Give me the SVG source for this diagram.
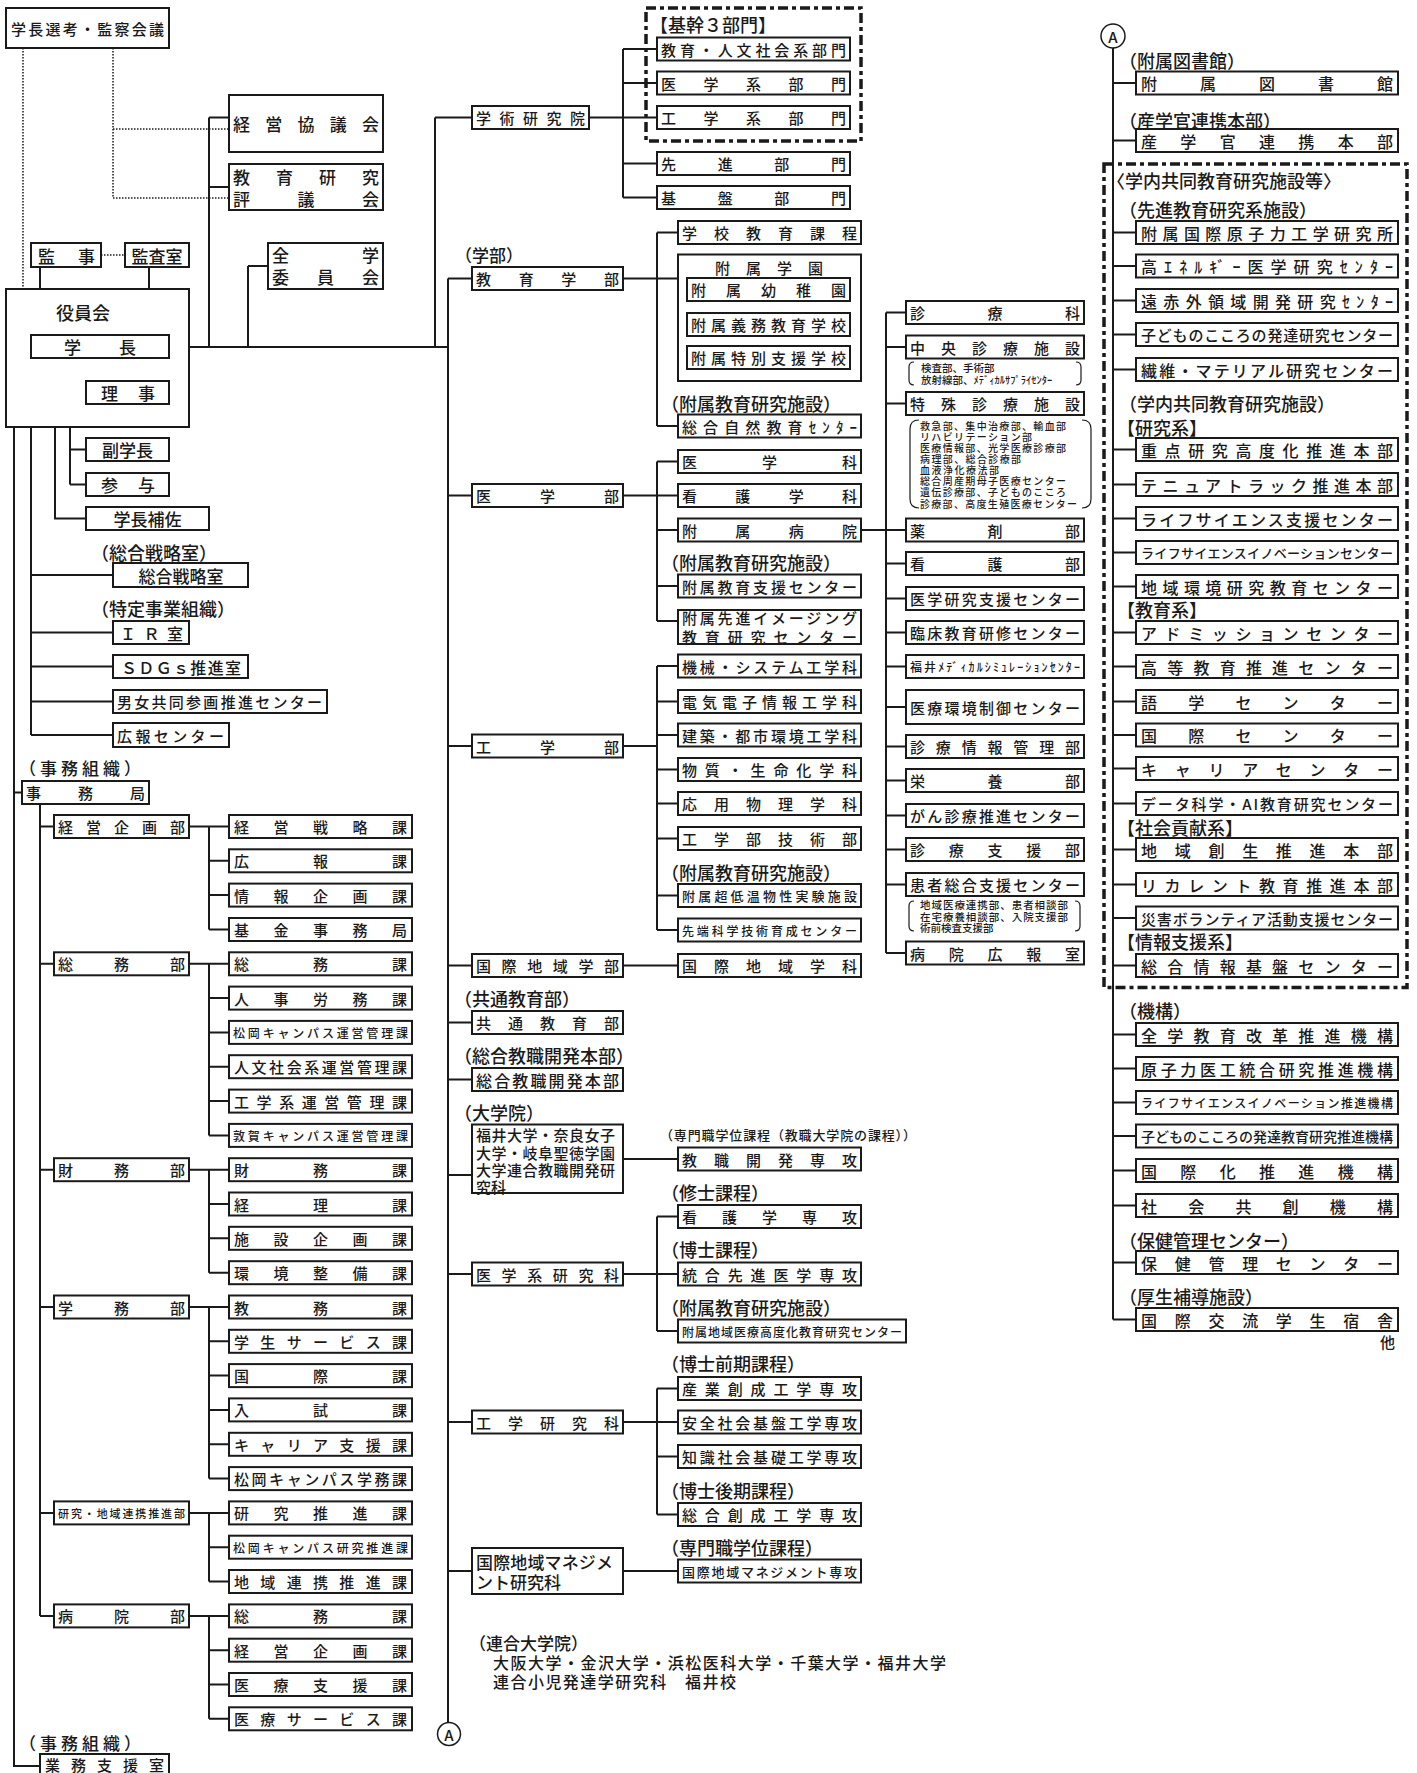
<svg xmlns="http://www.w3.org/2000/svg" width="1417" height="1773" viewBox="0 0 1417 1773">
<style>
.b{fill:#fff;stroke:#1a1a1a;stroke-width:2}
text{font-family:"Noto Sans CJK JP","Noto Sans CJK SC",sans-serif;font-size:15px;font-weight:500;fill:#1a1a1a;dominant-baseline:central}
.m{text-anchor:middle}
.f10{font-size:10px}.f105{font-size:10.5px}.f11{font-size:11px}.f12{font-size:12px}.f13{font-size:13px}.f14{font-size:14px}.f16{font-size:16px}.f17{font-size:17px}.f18{font-size:18px}
.lb{font-size:18px}
#connectors path{fill:none;stroke:#1a1a1a;stroke-width:2}
#connectors path.dot{stroke-width:1.5;stroke-dasharray:1.5 1.5}
.dash{fill:none;stroke:#1a1a1a;stroke-width:3.5;stroke-dasharray:10 4 4 4}
.br{fill:none;stroke:#1a1a1a;stroke-width:1.2}
.cir{fill:#fff;stroke:#1a1a1a;stroke-width:1.5}
</style>
<rect x="0" y="0" width="1417" height="1773" fill="#fff"/>

<g id="connectors">
<path class="dot" d="M23 48V347H31"/>
<path class="dot" d="M113 48V198H229M113 129H229"/>
<path class="dot" d="M101 255H125"/>
<path d="M189 347H448M435 117.5V347M435 117.5H472"/>
<path d="M589 117.5H657M623 49V197.5M623 49H657M623 83H657M623 163.5H657M623 197.5H657"/>
<path d="M209 117.5V347M209 117.5H229M209 187H229"/>
<path d="M248 266V347M248 266H268"/>
<path d="M40 267V289M149 267V335"/>
<path d="M70 358V484.5M70 392.5H86M70 449.5H86M70 484.5H86M55 358V518.5H86"/>
<path d="M31 427V735M31 575H113M31 632.5H113M31 666.5H113M31 701.5H113M31 735H113"/>
<path d="M14 427V1766H40M14 792.5H22"/>
<path d="M40 804V1615.9M40 826.5H54M40 963.8H54M40 1169.7H54M40 1307H54M40 1512.9H54M40 1615.9H54"/>
<path d="M189 826.5H229M209 826.5V929.5M209 860.8H229M209 895.1H229M209 929.5H229"/>
<path d="M189 963.8H229M209 963.8V1135.4M209 998.1H229M209 1032.4H229M209 1066.7H229M209 1101.1H229M209 1135.4H229"/>
<path d="M189 1169.7H229M209 1169.7V1272.7M209 1204H229M209 1238.3H229M209 1272.7H229"/>
<path d="M189 1307H229M209 1307V1478.6M209 1341.3H229M209 1375.6H229M209 1409.9H229M209 1444.3H229M209 1478.6H229"/>
<path d="M189 1512.9H229M209 1512.9V1581.5M209 1547.2H229M209 1581.5H229"/>
<path d="M189 1615.9H229M209 1615.9V1718.8M209 1650.2H229M209 1684.5H229M209 1718.8H229"/>
<path d="M448 278.5V1722M448 278.5H472M448 495.5H472M448 746H472M448 965.5H472M448 1022.5H472M448 1079.5H472M448 1175H472M448 1274H472M448 1422H472M448 1571H472"/>
<path d="M623 278.5H678M657 232.5V426M657 232.5H678M657 426H678"/>
<path d="M623 495.5H657M657 461.5V621M657 461.5H678M657 495.5H678M657 530H678M657 586H678M657 621H678"/>
<path d="M861 530H886M886 312.5V953M886 312.5H906M886 347H906M886 403.5H906M886 530H906M886 563.5H906M886 598.5H906M886 632.5H906M886 666.5H906M886 707H906M886 746.5H906M886 780.5H906M886 815.5H906M886 849.5H906M886 884.5H906M886 953H906"/>
<path d="M623 746H657M657 666V930M657 666H678M657 701.5H678M657 735H678M657 769.5H678M657 803.5H678M657 838.5H678M657 895.5H678M657 930H678"/>
<path d="M623 965.5H678M623 1159H678"/>
<path d="M623 1274H678M657 1216.5V1331M657 1216.5H678M657 1331H678"/>
<path d="M623 1422H678M657 1388.5V1514.5M657 1388.5H678M657 1456.5H678M657 1514.5H678"/>
<path d="M623 1571H678"/>
<path d="M1113 48V1319.5M1113 83H1136M1113 140.5H1136M1113 232.5H1136M1113 266H1136M1113 300.5H1136M1113 334.5H1136M1113 369.5H1136M1113 449.5H1136M1113 484.5H1136M1113 518.5H1136M1113 552.5H1136M1113 586.5H1136M1113 632.5H1136M1113 666.5H1136M1113 701.5H1136M1113 735H1136M1113 768.5H1136M1113 803.5H1136M1113 849.5H1136M1113 884.5H1136M1113 918H1136M1113 965.5H1136M1113 1034.5H1136M1113 1068.5H1136M1113 1102.5H1136M1113 1136H1136M1113 1170.5H1136M1113 1205.5H1136M1113 1262.5H1136M1113 1319.5H1136"/>
</g>

<!-- top-left -->
<g id="n-senko"><rect class="b" x="6" y="8" width="163" height="40"/><text x="11" y="28" textLength="153">学長選考・監察会議</text></g>
<g id="n-keiei"><rect class="b" x="229" y="95" width="154" height="57"/><text class="f17" x="233" y="123.5" textLength="146">経営協議会</text></g>
<g id="n-hyogikai"><rect class="b" x="229" y="164" width="154" height="46"/><text class="f17" x="233" y="176" textLength="146">教育研究</text><text class="f17" x="233" y="198" textLength="146">評議会</text></g>
<g id="n-zengaku"><rect class="b" x="268" y="243" width="115" height="46"/><text class="f17" x="272" y="254" textLength="107">全学</text><text class="f17" x="272" y="276" textLength="107">委員会</text></g>
<g id="n-kanji"><rect class="b" x="31" y="243" width="70" height="24"/><text class="f17" x="38" y="255" textLength="57">監事</text></g>
<g id="n-kansa"><rect class="b" x="125" y="243" width="64" height="24"/><text class="f17 m" x="157" y="255">監査室</text></g>
<g id="n-yakuin"><rect class="b" x="6" y="289" width="183" height="138"/><text class="f18 m" x="83" y="312">役員会</text></g>
<g id="n-gakucho"><rect class="b" x="31" y="335" width="138" height="23"/><text class="f17" x="64" y="346.5" textLength="72">学長</text></g>
<g id="n-riji"><rect class="b" x="86" y="381" width="83" height="23"/><text class="f17" x="101" y="392.5" textLength="54">理事</text></g>
<g id="n-fukugakucho"><rect class="b" x="86" y="438" width="83" height="23"/><text class="f17 m" x="127.5" y="449.5">副学長</text></g>
<g id="n-sanyo"><rect class="b" x="86" y="473" width="83" height="23"/><text class="f17" x="101" y="484.5" textLength="54">参与</text></g>
<g id="n-hosa"><rect class="b" x="86" y="507" width="123" height="23"/><text class="f17 m" x="147.5" y="518.5">学長補佐</text></g>
<text class="lb" x="91" y="552">（総合戦略室）</text>
<g id="n-senryaku"><rect class="b" x="113" y="563" width="135" height="24"/><text class="f17 m" x="181" y="575">総合戦略室</text></g>
<text class="lb" x="91" y="608">（特定事業組織）</text>
<g id="n-ir"><rect class="b" x="113" y="621" width="76" height="23"/><text class="f16" x="120" y="632.5" textLength="63">ＩＲ室</text></g>
<g id="n-sdgs"><rect class="b" x="113" y="655" width="135" height="23"/><text class="f16" x="121" y="666.5" textLength="120">ＳＤＧｓ推進室</text></g>
<g id="n-danjo"><rect class="b" x="113" y="690" width="214" height="23"/><text x="117" y="701.5" textLength="205">男女共同参画推進センター</text></g>
<g id="n-koho-c"><rect class="b" x="113" y="723" width="116" height="24"/><text x="117" y="735" textLength="107">広報センター</text></g>
<text class="f17" x="19" y="767" textLength="122">（事務組織）</text>
<g id="n-jimukyoku"><rect class="b" x="22" y="781" width="127" height="23"/><text x="26" y="792.5" textLength="119">事務局</text></g>

<!-- departments -->
<g id="d-keiei"><rect class="b" x="54" y="815" width="135" height="23"/><text x="58" y="826.5" textLength="127">経営企画部</text></g>
<g id="d-somu"><rect class="b" x="54" y="952.3" width="135" height="23"/><text x="58" y="963.8" textLength="127">総務部</text></g>
<g id="d-zaimu"><rect class="b" x="54" y="1158.2" width="135" height="23"/><text x="58" y="1169.7" textLength="127">財務部</text></g>
<g id="d-gakumu"><rect class="b" x="54" y="1295.5" width="135" height="23"/><text x="58" y="1307" textLength="127">学務部</text></g>
<g id="d-kenkyu"><rect class="b" x="54" y="1501.4" width="135" height="23"/><text class="f11" x="58" y="1512.9" textLength="127">研究・地域連携推進部</text></g>
<g id="d-byoin"><rect class="b" x="54" y="1604.4" width="135" height="23"/><text x="58" y="1615.9" textLength="127">病院部</text></g>

<!-- sections -->
<g id="k0"><rect class="b" x="229" y="815" width="183" height="23"/><text x="234" y="826.5" textLength="173">経営戦略課</text></g>
<g id="k1"><rect class="b" x="229" y="849.3" width="183" height="23"/><text x="234" y="860.8" textLength="173">広報課</text></g>
<g id="k2"><rect class="b" x="229" y="883.6" width="183" height="23"/><text x="234" y="895.1" textLength="173">情報企画課</text></g>
<g id="k3"><rect class="b" x="229" y="918" width="183" height="23"/><text x="234" y="929.5" textLength="173">基金事務局</text></g>
<g id="k4"><rect class="b" x="229" y="952.3" width="183" height="23"/><text x="234" y="963.8" textLength="173">総務課</text></g>
<g id="k5"><rect class="b" x="229" y="986.6" width="183" height="23"/><text x="234" y="998.1" textLength="173">人事労務課</text></g>
<g id="k6"><rect class="b" x="229" y="1020.9" width="183" height="23"/><text class="f12" x="233" y="1032.4" textLength="175">松岡キャンパス運営管理課</text></g>
<g id="k7"><rect class="b" x="229" y="1055.2" width="183" height="23"/><text x="234" y="1066.7" textLength="173">人文社会系運営管理課</text></g>
<g id="k8"><rect class="b" x="229" y="1089.6" width="183" height="23"/><text x="234" y="1101.1" textLength="173">工学系運営管理課</text></g>
<g id="k9"><rect class="b" x="229" y="1123.9" width="183" height="23"/><text class="f12" x="233" y="1135.4" textLength="175">敦賀キャンパス運営管理課</text></g>
<g id="k10"><rect class="b" x="229" y="1158.2" width="183" height="23"/><text x="234" y="1169.7" textLength="173">財務課</text></g>
<g id="k11"><rect class="b" x="229" y="1192.5" width="183" height="23"/><text x="234" y="1204" textLength="173">経理課</text></g>
<g id="k12"><rect class="b" x="229" y="1226.8" width="183" height="23"/><text x="234" y="1238.3" textLength="173">施設企画課</text></g>
<g id="k13"><rect class="b" x="229" y="1261.2" width="183" height="23"/><text x="234" y="1272.7" textLength="173">環境整備課</text></g>
<g id="k14"><rect class="b" x="229" y="1295.5" width="183" height="23"/><text x="234" y="1307" textLength="173">教務課</text></g>
<g id="k15"><rect class="b" x="229" y="1329.8" width="183" height="23"/><text x="234" y="1341.3" textLength="173">学生サービス課</text></g>
<g id="k16"><rect class="b" x="229" y="1364.1" width="183" height="23"/><text x="234" y="1375.6" textLength="173">国際課</text></g>
<g id="k17"><rect class="b" x="229" y="1398.4" width="183" height="23"/><text x="234" y="1409.9" textLength="173">入試課</text></g>
<g id="k18"><rect class="b" x="229" y="1432.8" width="183" height="23"/><text x="234" y="1444.3" textLength="173">キャリア支援課</text></g>
<g id="k19"><rect class="b" x="229" y="1467.1" width="183" height="23"/><text x="234" y="1478.6" textLength="173">松岡キャンパス学務課</text></g>
<g id="k20"><rect class="b" x="229" y="1501.4" width="183" height="23"/><text x="234" y="1512.9" textLength="173">研究推進課</text></g>
<g id="k21"><rect class="b" x="229" y="1535.7" width="183" height="23"/><text class="f12" x="233" y="1547.2" textLength="175">松岡キャンパス研究推進課</text></g>
<g id="k22"><rect class="b" x="229" y="1570" width="183" height="23"/><text x="234" y="1581.5" textLength="173">地域連携推進課</text></g>
<g id="k23"><rect class="b" x="229" y="1604.4" width="183" height="23"/><text x="234" y="1615.9" textLength="173">総務課</text></g>
<g id="k24"><rect class="b" x="229" y="1638.7" width="183" height="23"/><text x="234" y="1650.2" textLength="173">経営企画課</text></g>
<g id="k25"><rect class="b" x="229" y="1673" width="183" height="23"/><text x="234" y="1684.5" textLength="173">医療支援課</text></g>
<g id="k26"><rect class="b" x="229" y="1707.3" width="183" height="23"/><text x="234" y="1718.8" textLength="173">医療サービス課</text></g>
<text class="f17" x="19" y="1742" textLength="122">（事務組織）</text>
<g id="n-gyomu"><rect class="b" x="40" y="1754" width="129" height="20"/><text x="45" y="1764" textLength="119">業務支援室</text></g>

<!-- middle -->
<g id="n-gakujutsu"><rect class="b" x="472" y="106" width="117" height="23"/><text x="476" y="117.5" textLength="109">学術研究院</text></g>
<rect class="dash" x="646" y="8" width="215" height="133"/>
<text class="lb" x="650" y="24">【基幹３部門】</text>
<g id="n-bumon1"><rect class="b" x="657" y="37.5" width="193" height="23"/><text x="661" y="49" textLength="185">教育・人文社会系部門</text></g>
<g id="n-bumon2"><rect class="b" x="657" y="71.5" width="193" height="23"/><text x="661" y="83" textLength="185">医学系部門</text></g>
<g id="n-bumon3"><rect class="b" x="657" y="106" width="193" height="23"/><text x="661" y="117.5" textLength="185">工学系部門</text></g>
<g id="n-senshin"><rect class="b" x="657" y="152" width="193" height="23"/><text x="661" y="163.5" textLength="185">先進部門</text></g>
<g id="n-kiban"><rect class="b" x="657" y="186" width="193" height="23"/><text x="661" y="197.5" textLength="185">基盤部門</text></g>

<text class="f17" x="455" y="254">（学部）</text>
<g id="n-kyoikugakubu"><rect class="b" x="472" y="267" width="151" height="23"/><text x="476" y="278.5" textLength="143">教育学部</text></g>
<g id="n-gakko"><rect class="b" x="678" y="221" width="183" height="23"/><text x="682" y="232.5" textLength="175">学校教育課程</text></g>
<g id="n-gakuen"><rect class="b" x="678" y="254.5" width="183" height="126.5"/><text x="715" y="267" textLength="108">附属学園</text>
<rect class="b" x="687" y="278" width="163" height="23"/><text x="691" y="289.5" textLength="155">附属幼稚園</text>
<rect class="b" x="687" y="313" width="163" height="23"/><text x="691" y="324.5" textLength="155">附属義務教育学校</text>
<rect class="b" x="687" y="346" width="163" height="23"/><text x="691" y="357.5" textLength="155">附属特別支援学校</text></g>
<text class="lb" x="661" y="403">（附属教育研究施設）</text>
<g id="n-shizen"><rect class="b" x="678" y="414.5" width="183" height="23"/><text x="682" y="426" textLength="175">総合自然教育ｾﾝﾀｰ</text></g>

<g id="n-igakubu"><rect class="b" x="472" y="484" width="151" height="23"/><text x="476" y="495.5" textLength="143">医学部</text></g>
<g id="n-igakuka"><rect class="b" x="678" y="450" width="183" height="23"/><text x="682" y="461.5" textLength="175">医学科</text></g>
<g id="n-kangogakka"><rect class="b" x="678" y="484" width="183" height="23"/><text x="682" y="495.5" textLength="175">看護学科</text></g>
<g id="n-byoin"><rect class="b" x="678" y="518.5" width="183" height="23"/><text x="682" y="530" textLength="175">附属病院</text></g>
<text class="lb" x="661" y="561.5">（附属教育研究施設）</text>
<g id="n-kyoikushien"><rect class="b" x="678" y="574.5" width="183" height="23"/><text x="682" y="586" textLength="175">附属教育支援センター</text></g>
<g id="n-imaging"><rect class="b" x="678" y="610" width="183" height="34"/><text x="682" y="617.5" textLength="175">附属先進イメージング</text><text x="682" y="636" textLength="175">教育研究センター</text></g>

<g id="n-kogakubu"><rect class="b" x="472" y="734.5" width="151" height="23"/><text x="476" y="746" textLength="143">工学部</text></g>
<g id="n-kikai"><rect class="b" x="678" y="654.5" width="183" height="23"/><text x="682" y="666" textLength="175">機械・システム工学科</text></g>
<g id="n-denki"><rect class="b" x="678" y="690" width="183" height="23"/><text x="682" y="701.5" textLength="175">電気電子情報工学科</text></g>
<g id="n-kenchiku"><rect class="b" x="678" y="723.5" width="183" height="23"/><text x="682" y="735" textLength="175">建築・都市環境工学科</text></g>
<g id="n-busshitsu"><rect class="b" x="678" y="758" width="183" height="23"/><text x="682" y="769.5" textLength="175">物質・生命化学科</text></g>
<g id="n-oyo"><rect class="b" x="678" y="792" width="183" height="23"/><text x="682" y="803.5" textLength="175">応用物理学科</text></g>
<g id="n-gijutsu"><rect class="b" x="678" y="827" width="183" height="23"/><text x="682" y="838.5" textLength="175">工学部技術部</text></g>
<text class="lb" x="661" y="872">（附属教育研究施設）</text>
<g id="n-teion"><rect class="b" x="678" y="884" width="183" height="23"/><text class="f13" x="682" y="895.5" textLength="175">附属超低温物性実験施設</text></g>
<g id="n-sentan"><rect class="b" x="678" y="918.5" width="183" height="23"/><text class="f12" x="682" y="930" textLength="175">先端科学技術育成センター</text></g>

<g id="n-kokusaigakubu"><rect class="b" x="472" y="954" width="151" height="23"/><text x="476" y="965.5" textLength="143">国際地域学部</text></g>
<g id="n-kokusaigakka"><rect class="b" x="678" y="954" width="183" height="23"/><text x="682" y="965.5" textLength="175">国際地域学科</text></g>
<text class="lb" x="454" y="998">（共通教育部）</text>
<g id="n-kyotsu"><rect class="b" x="472" y="1011" width="151" height="23"/><text x="476" y="1022.5" textLength="143">共通教育部</text></g>
<text class="lb" x="454" y="1055">（総合教職開発本部）</text>
<g id="n-kyoshoku"><rect class="b" x="472" y="1068" width="151" height="23"/><text class="f16" x="476" y="1079.5" textLength="143">総合教職開発本部</text></g>
<text class="lb" x="454" y="1112">（大学院）</text>
<g id="n-rengo"><rect class="b" x="472" y="1124.5" width="151" height="68.5"/><text x="476" y="1134" textLength="139">福井大学・奈良女子</text><text x="476" y="1152" textLength="139">大学・岐阜聖徳学園</text><text x="476" y="1169.5" textLength="139">大学連合教職開発研</text><text x="476" y="1186.5">究科</text></g>
<text class="f13" x="660" y="1134" textLength="256">（専門職学位課程（教職大学院の課程））</text>
<g id="n-kyoshokusenko"><rect class="b" x="678" y="1147.5" width="183" height="23"/><text x="682" y="1159" textLength="175">教職開発専攻</text></g>

<text class="lb" x="661" y="1192">（修士課程）</text>
<g id="n-kangosenko"><rect class="b" x="678" y="1205" width="183" height="23"/><text x="682" y="1216.5" textLength="175">看護学専攻</text></g>
<text class="lb" x="661" y="1249">（博士課程）</text>
<g id="n-togo"><rect class="b" x="678" y="1262.5" width="183" height="23"/><text x="682" y="1274" textLength="175">統合先進医学専攻</text></g>
<text class="lb" x="661" y="1307">（附属教育研究施設）</text>
<g id="n-chiikiiryo"><rect class="b" x="678" y="1319.5" width="228" height="23"/><text class="f12" x="682" y="1331" textLength="220">附属地域医療高度化教育研究センター</text></g>
<g id="n-igakukei"><rect class="b" x="472" y="1262.5" width="151" height="23"/><text x="476" y="1274" textLength="143">医学系研究科</text></g>
<text class="lb" x="661" y="1363">（博士前期課程）</text>
<g id="n-sangyo"><rect class="b" x="678" y="1377" width="183" height="23"/><text x="682" y="1388.5" textLength="175">産業創成工学専攻</text></g>
<g id="n-anzen"><rect class="b" x="678" y="1410.5" width="183" height="23"/><text x="682" y="1422" textLength="175">安全社会基盤工学専攻</text></g>
<g id="n-chishiki"><rect class="b" x="678" y="1445" width="183" height="23"/><text x="682" y="1456.5" textLength="175">知識社会基礎工学専攻</text></g>
<text class="lb" x="661" y="1490">（博士後期課程）</text>
<g id="n-sogososei"><rect class="b" x="678" y="1503" width="183" height="23"/><text x="682" y="1514.5" textLength="175">総合創成工学専攻</text></g>
<g id="n-kogakukenkyu"><rect class="b" x="472" y="1410.5" width="151" height="23"/><text x="476" y="1422" textLength="143">工学研究科</text></g>
<text class="lb" x="661" y="1547">（専門職学位課程）</text>
<g id="n-managesenko"><rect class="b" x="678" y="1559.5" width="183" height="23"/><text class="f13" x="682" y="1571" textLength="175">国際地域マネジメント専攻</text></g>
<g id="n-managekenkyu"><rect class="b" x="472" y="1548" width="151" height="46"/><text class="f17" x="476" y="1561" textLength="137">国際地域マネジメ</text><text class="f17" x="476" y="1581">ント研究科</text></g>
<text class="f17" x="469" y="1642">（連合大学院）</text>
<text class="f16" x="493" y="1662" textLength="453">大阪大学・金沢大学・浜松医科大学・千葉大学・福井大学</text>
<text class="f16" x="493" y="1681" textLength="243">連合小児発達学研究科　福井校</text>
<g id="a-bottom"><circle class="cir" cx="449" cy="1734" r="11.5"/><text class="m" x="449" y="1734">A</text></g>

<!-- hospital -->
<g id="h-shinryoka"><rect class="b" x="906" y="301" width="178" height="23"/><text x="910" y="312.5" textLength="170">診療科</text></g>
<g id="h-chuo"><rect class="b" x="906" y="335.5" width="178" height="23"/><text x="910" y="347" textLength="170">中央診療施設</text></g>
<path class="br" d="M914 362Q909 362 909 367V380Q909 385 914 385M1076 362Q1081 362 1081 367V380Q1081 385 1076 385"/>
<text class="f105" x="921" y="367.5">検査部、手術部</text>
<text class="f105" x="921" y="379.5">放射線部、ﾒﾃﾞｨｶﾙｻﾌﾟﾗｲｾﾝﾀｰ</text>
<g id="h-tokushu"><rect class="b" x="906" y="392" width="178" height="23"/><text x="910" y="403.5" textLength="170">特殊診療施設</text></g>
<path class="br" d="M919 420Q910 420 910 429V499Q910 508 919 508M1082 420Q1091 420 1091 429V499Q1091 508 1082 508"/>
<text class="f10" x="920" y="425" textLength="146">救急部、集中治療部、輸血部</text>
<text class="f10" x="920" y="436" textLength="112">リハビリテーション部</text>
<text class="f10" x="920" y="447" textLength="146">医療情報部、光学医療診療部</text>
<text class="f10" x="920" y="458" textLength="101">病理部、総合診療部</text>
<text class="f10" x="920" y="469" textLength="79">血液浄化療法部</text>
<text class="f10" x="920" y="480" textLength="146">総合周産期母子医療センター</text>
<text class="f10" x="920" y="491.5" textLength="146">遺伝診療部、子どものこころ</text>
<text class="f10" x="920" y="503" textLength="157">診療部、高度生殖医療センター</text>
<g id="h-yakuzai"><rect class="b" x="906" y="518.5" width="178" height="23"/><text x="910" y="530" textLength="170">薬剤部</text></g>
<g id="h-kangobu"><rect class="b" x="906" y="552" width="178" height="23"/><text x="910" y="563.5" textLength="170">看護部</text></g>
<g id="h-shien"><rect class="b" x="906" y="587" width="178" height="23"/><text x="910" y="598.5" textLength="170">医学研究支援センター</text></g>
<g id="h-rinsho"><rect class="b" x="906" y="621" width="178" height="23"/><text x="910" y="632.5" textLength="170">臨床教育研修センター</text></g>
<g id="h-sim"><rect class="b" x="906" y="655" width="178" height="23"/><text class="f12" x="910" y="666.5" textLength="170">福井ﾒﾃﾞｨｶﾙｼﾐｭﾚｰｼｮﾝｾﾝﾀｰ</text></g>
<g id="h-kankyo"><rect class="b" x="906" y="690" width="178" height="34"/><text x="910" y="707" textLength="170">医療環境制御センター</text></g>
<g id="h-joho"><rect class="b" x="906" y="735" width="178" height="23"/><text x="910" y="746.5" textLength="170">診療情報管理部</text></g>
<g id="h-eiyo"><rect class="b" x="906" y="769" width="178" height="23"/><text x="910" y="780.5" textLength="170">栄養部</text></g>
<g id="h-gan"><rect class="b" x="906" y="804" width="178" height="23"/><text x="910" y="815.5" textLength="170">がん診療推進センター</text></g>
<g id="h-shinryoshien"><rect class="b" x="906" y="838" width="178" height="23"/><text x="910" y="849.5" textLength="170">診療支援部</text></g>
<g id="h-kanja"><rect class="b" x="906" y="873" width="178" height="23"/><text x="910" y="884.5" textLength="170">患者総合支援センター</text></g>
<path class="br" d="M914 901Q909 901 909 906V926Q909 931 914 931M1075 901Q1080 901 1080 906V926Q1080 931 1075 931"/>
<text class="f105" x="920" y="904.5" textLength="148">地域医療連携部、患者相談部</text>
<text class="f105" x="920" y="916" textLength="148">在宅療養相談部、入院支援部</text>
<text class="f105" x="920" y="927.5">術前検査支援部</text>
<g id="h-koho"><rect class="b" x="906" y="941.5" width="178" height="23"/><text x="910" y="953" textLength="170">病院広報室</text></g>

<!-- right -->
<g id="a-top"><circle class="cir" cx="1113" cy="36" r="12"/><text class="m" x="1113" y="36">A</text></g>
<text class="lb" x="1119" y="59.5">（附属図書館）</text>
<g id="r-tosho"><rect class="b" x="1136" y="71.5" width="262" height="23"/><text class="f16" x="1141" y="83" textLength="252">附属図書館</text></g>
<text class="lb" x="1119" y="119.5">（産学官連携本部）</text>
<g id="r-sangaku"><rect class="b" x="1136" y="129" width="262" height="23"/><text class="f16" x="1141" y="140.5" textLength="252">産学官連携本部</text></g>
<rect class="dash" x="1104" y="164" width="303" height="823.5"/>
<text class="lb" x="1107" y="180">〈学内共同教育研究施設等〉</text>
<text class="lb" x="1119" y="209">（先進教育研究系施設）</text>
<g id="r-genshi"><rect class="b" x="1136" y="221" width="262" height="23"/><text class="f16" x="1141" y="232.5" textLength="252">附属国際原子力工学研究所</text></g>
<g id="r-energy"><rect class="b" x="1136" y="254.5" width="262" height="23"/><text class="f16" x="1141" y="266" textLength="252">高ｴﾈﾙｷﾞｰ医学研究ｾﾝﾀｰ</text></g>
<g id="r-enseki"><rect class="b" x="1136" y="289" width="262" height="23"/><text class="f16" x="1141" y="300.5" textLength="252">遠赤外領域開発研究ｾﾝﾀｰ</text></g>
<g id="r-kodomo"><rect class="b" x="1136" y="323" width="262" height="23"/><text x="1141" y="334.5" textLength="252">子どものこころの発達研究センター</text></g>
<g id="r-seni"><rect class="b" x="1136" y="358" width="262" height="23"/><text class="f16" x="1141" y="369.5" textLength="252">繊維・マテリアル研究センター</text></g>
<text class="lb" x="1119" y="403">（学内共同教育研究施設）</text>
<text class="lb" x="1117" y="426.5">【研究系】</text>
<g id="r-juten"><rect class="b" x="1136" y="438" width="262" height="23"/><text class="f16" x="1141" y="449.5" textLength="252">重点研究高度化推進本部</text></g>
<g id="r-tenure"><rect class="b" x="1136" y="473" width="262" height="23"/><text class="f16" x="1141" y="484.5" textLength="252">テニュアトラック推進本部</text></g>
<g id="r-lifeshien"><rect class="b" x="1136" y="507" width="262" height="23"/><text class="f16" x="1141" y="518.5" textLength="252">ライフサイエンス支援センター</text></g>
<g id="r-lifeinno"><rect class="b" x="1136" y="541" width="262" height="23"/><text class="f13" x="1141" y="552.5" textLength="252">ライフサイエンスイノベーションセンター</text></g>
<g id="r-chiikikankyo"><rect class="b" x="1136" y="575" width="262" height="23"/><text class="f16" x="1141" y="586.5" textLength="252">地域環境研究教育センター</text></g>
<text class="lb" x="1117" y="608.5">【教育系】</text>
<g id="r-admission"><rect class="b" x="1136" y="621" width="262" height="23"/><text class="f16" x="1141" y="632.5" textLength="252">アドミッションセンター</text></g>
<g id="r-koto"><rect class="b" x="1136" y="655" width="262" height="23"/><text class="f16" x="1141" y="666.5" textLength="252">高等教育推進センター</text></g>
<g id="r-gogaku"><rect class="b" x="1136" y="690" width="262" height="23"/><text class="f16" x="1141" y="701.5" textLength="252">語学センター</text></g>
<g id="r-kokusai"><rect class="b" x="1136" y="723.5" width="262" height="23"/><text class="f16" x="1141" y="735" textLength="252">国際センター</text></g>
<g id="r-career"><rect class="b" x="1136" y="757" width="262" height="23"/><text class="f16" x="1141" y="768.5" textLength="252">キャリアセンター</text></g>
<g id="r-data"><rect class="b" x="1136" y="792" width="262" height="23"/><text x="1141" y="803.5" textLength="252">データ科学・AI教育研究センター</text></g>
<text class="lb" x="1117" y="826.5">【社会貢献系】</text>
<g id="r-sosei"><rect class="b" x="1136" y="838" width="262" height="23"/><text class="f16" x="1141" y="849.5" textLength="252">地域創生推進本部</text></g>
<g id="r-recurrent"><rect class="b" x="1136" y="873" width="262" height="23"/><text class="f16" x="1141" y="884.5" textLength="252">リカレント教育推進本部</text></g>
<g id="r-saigai"><rect class="b" x="1136" y="906.5" width="262" height="23"/><text x="1141" y="918" textLength="252">災害ボランティア活動支援センター</text></g>
<text class="lb" x="1117" y="940.5">【情報支援系】</text>
<g id="r-sogojoho"><rect class="b" x="1136" y="954" width="262" height="23"/><text class="f16" x="1141" y="965.5" textLength="252">総合情報基盤センター</text></g>
<text class="lb" x="1119" y="1010">（機構）</text>
<g id="r-kaikaku"><rect class="b" x="1136" y="1023" width="262" height="23"/><text class="f16" x="1141" y="1034.5" textLength="252">全学教育改革推進機構</text></g>
<g id="r-genshiryoku"><rect class="b" x="1136" y="1057" width="262" height="23"/><text class="f16" x="1141" y="1068.5" textLength="252">原子力医工統合研究推進機構</text></g>
<g id="r-lifekiko"><rect class="b" x="1136" y="1091" width="262" height="23"/><text class="f12" x="1141" y="1102.5" textLength="252">ライフサイエンスイノベーション推進機構</text></g>
<g id="r-kodomokiko"><rect class="b" x="1136" y="1124.5" width="262" height="23"/><text class="f14" x="1141" y="1136" textLength="252">子どものこころの発達教育研究推進機構</text></g>
<g id="r-kokusaika"><rect class="b" x="1136" y="1159" width="262" height="23"/><text class="f16" x="1141" y="1170.5" textLength="252">国際化推進機構</text></g>
<g id="r-shakai"><rect class="b" x="1136" y="1194" width="262" height="23"/><text class="f16" x="1141" y="1205.5" textLength="252">社会共創機構</text></g>
<text class="lb" x="1119" y="1239.5">（保健管理センター）</text>
<g id="r-hoken"><rect class="b" x="1136" y="1251" width="262" height="23"/><text class="f16" x="1141" y="1262.5" textLength="252">保健管理センター</text></g>
<text class="lb" x="1119" y="1295.5">（厚生補導施設）</text>
<g id="r-ryo"><rect class="b" x="1136" y="1308" width="262" height="23"/><text class="f16" x="1141" y="1319.5" textLength="252">国際交流学生宿舎</text></g>
<text x="1380" y="1341">他</text>
</svg>
